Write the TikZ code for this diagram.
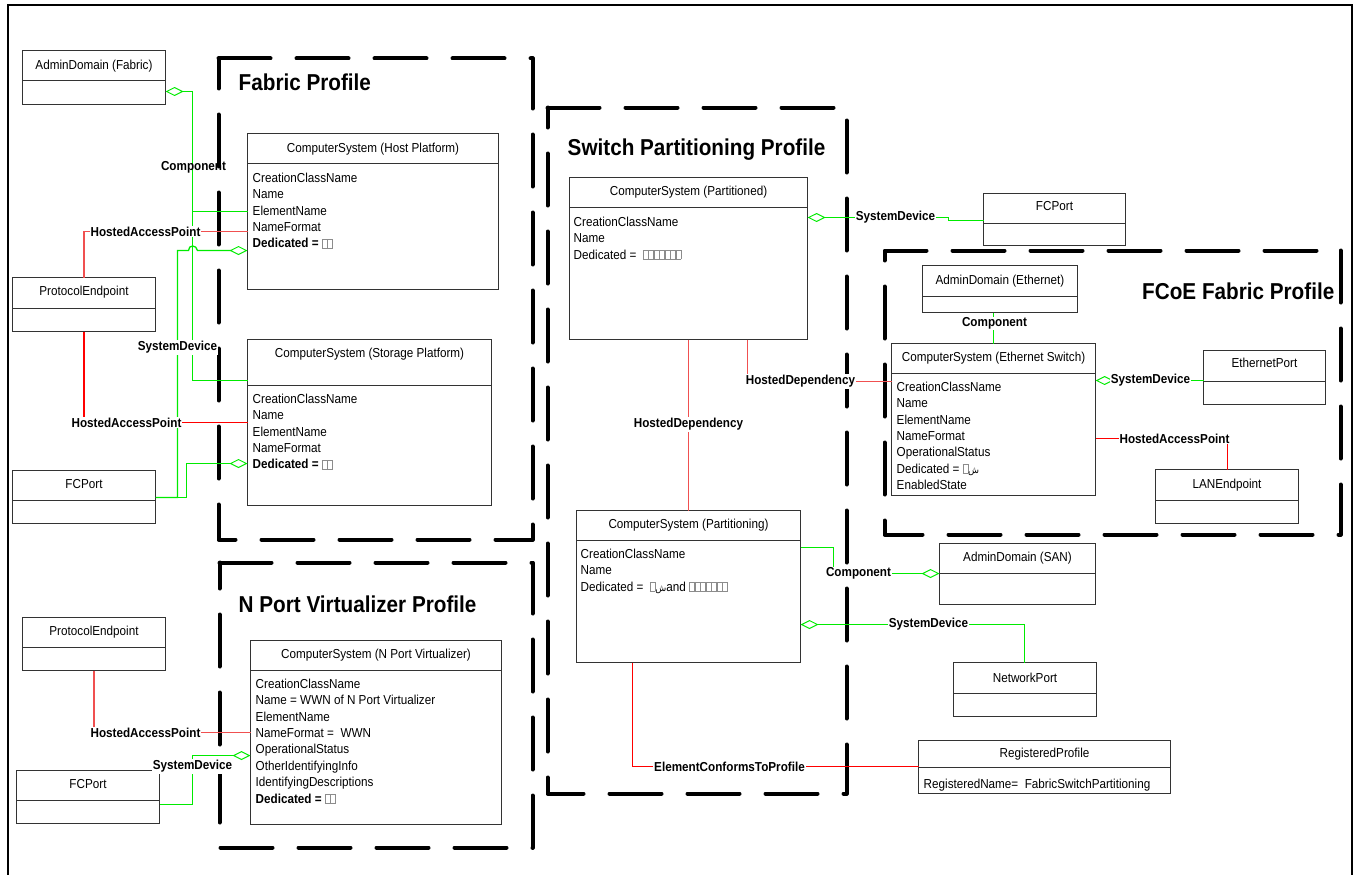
\documentclass[tikz,border=0pt]{standalone}
\usepackage{fontspec}
\setmainfont{Liberation Sans}[FakeStretch=0.9]
\newfontfamily\arabicfont[Script=Arabic]{DejaVu Sans}
\TeXXeTstate=1
\usetikzlibrary{arrows.meta,calc}

\definecolor{lgreen}{RGB}{0,235,0}
\definecolor{lred}{RGB}{255,0,0}
\definecolor{pred}{RGB}{240,80,80}

\newcommand\tofu{{\color{black!45}\setlength\fboxsep{0pt}\setlength\fboxrule{0.5pt}\fbox{\rule{0pt}{8.5pt}\hspace{4.5pt}}}}
\newcommand\tofuseven{\tofu\tofu\tofu\tofu\tofu\tofu\tofu}
\newcommand\shin{{\arabicfont\fontsize{9}{9}\selectfont\beginR ش\endR}}
\newcommand\cfont{\fontsize{13}{15}\selectfont}
\newcommand\lblfont{\fontsize{13}{15}\selectfont\bfseries}
\newcommand\ptfont{\fontsize{23}{27}\selectfont\bfseries}

\newcommand\umlclass[8]{%
  \node[cbox, minimum width=#4pt, minimum height=#5pt, anchor=north west] (#1) at (#2,#3) {};
  \draw[cdiv] (#1.west |- 0,#6) -- (#1.east |- 0,#6);
  \node[ctitle, anchor=base] (#1-t) at (#1.north |- 0,#7+4.7) {#8};
}
\newcommand\attrs[4]{%
  \foreach \itm [count=\i] in {#4}
    \node[attr, anchor=base west] (#1-a\i) at (#2, #3+4.7+16.4*\i-16.4) {\itm};
}

\begin{document}
\begin{tikzpicture}[x=1pt, y=-1pt,
  cbox/.style={draw=black!80, line width=1pt, fill=white, inner sep=0pt, outer sep=0pt},
  cdiv/.style={draw=black!80, line width=1pt},
  ctitle/.style={font=\cfont, inner sep=0pt},
  attr/.style={font=\cfont, inner sep=0pt},
  gline/.style={draw=lgreen, line width=1.3pt},
  rline/.style={draw=lred, line width=1.3pt},
  pline/.style={draw=pred, line width=1.3pt},
  diam/.style={{Diamond[open,length=18pt,width=9pt,line width=1pt]}-},
  diamend/.style={-{Diamond[open,length=18pt,width=9pt,line width=1pt]}},
  lbl/.style={font=\lblfont, fill=white, inner sep=1pt},
  lblclear/.style={font=\lblfont, inner sep=1pt},
  profile/.style={draw=black, line width=4pt, dash pattern=on 52pt off 26pt, line cap=round, line join=round},
  ptitle/.style={font=\ptfont, anchor=base west, inner sep=0pt}
]
\useasboundingbox (-0.5,-0.5) rectangle (1356.5,874.5);

% outer frame
\draw[line width=2pt] (8,875) -- (8,5) -- (1351,5) -- (1351,875);

% profile boundaries
\draw[profile] (218,58) -- (532,58) -- (532,539) -- (218,539) -- cycle;
\draw[profile] (219,562) -- (532,562) -- (532,847) -- (219,847) -- cycle;
\draw[profile] (547,107) -- (846,107) -- (846,793) -- (547,793) -- cycle;
\draw[profile] (1340,250) -- (1340,534) -- (884,534) -- (884,250) -- cycle;

\node[ptitle] (pt-fab) at (238,90.2) {Fabric Profile};
\node[ptitle] (pt-sw) at (567,155.2) {Switch Partitioning Profile};
\node[ptitle, anchor=base east] (pt-fcoe) at (1334,299.2) {FCoE Fabric Profile};
\node[ptitle] (pt-npv) at (238,612.2) {N Port Virtualizer Profile};

% classes
\umlclass{adf}{22}{50}{143}{54}{80}{64}{AdminDomain (Fabric)}
\umlclass{hp}{247}{133}{251}{156}{163}{147}{ComputerSystem (Host Platform)}
\attrs{hp}{252}{177}{CreationClassName, Name, ElementName, NameFormat, {\textbf{Dedicated =} \tofu\tofu}}
\umlclass{pe1}{12}{277}{143}{54}{308}{290}{ProtocolEndpoint}
\umlclass{sp}{247}{339}{244}{166}{385}{352}{ComputerSystem (Storage Platform)}
\attrs{sp}{252}{398}{CreationClassName, Name, ElementName, NameFormat, {\textbf{Dedicated =} \tofu\tofu}}
\umlclass{fc1}{12}{470}{143}{53}{500}{483}{FCPort}

\umlclass{pe2}{22}{617}{143}{53}{647}{630}{ProtocolEndpoint}
\umlclass{fc2}{16}{770}{143}{53}{800}{783}{FCPort}
\umlclass{npv}{250}{640}{251}{184}{670}{653}{ComputerSystem (N Port Virtualizer)}
\attrs{npv}{255}{683}{CreationClassName, Name = WWN of N Port Virtualizer, ElementName, NameFormat = \ WWN, OperationalStatus, OtherIdentifyingInfo, IdentifyingDescriptions, {\textbf{Dedicated =} \tofu\tofu}}

\umlclass{ptd}{569}{177}{238}{162}{207}{190}{ComputerSystem (Partitioned)}
\attrs{ptd}{573}{221}{CreationClassName, Name, {Dedicated = \ \tofuseven}}
\umlclass{ptg}{576}{510}{224}{152}{540}{523}{ComputerSystem (Partitioning)}
\attrs{ptg}{580}{553}{CreationClassName, Name, {Dedicated = \ \tofu\shin and \tofuseven}}
\umlclass{fcr}{983}{193}{142}{52}{223}{205}{FCPort}
\umlclass{ads}{939}{543}{156}{61}{573}{556}{AdminDomain (SAN)}
\umlclass{np}{953}{662}{143}{54}{693}{677}{NetworkPort}
\umlclass{rp}{918}{740}{252}{53}{767}{752}{RegisteredProfile}
\attrs{rp}{923}{783}{{RegisteredName= \ FabricSwitchPartitioning}}

\umlclass{ade}{922}{265}{155}{47}{296}{279}{AdminDomain (Ethernet)}
\umlclass{es}{891}{343}{204}{152}{373}{356}{ComputerSystem (Ethernet Switch)}
\attrs{es}{896}{386}{CreationClassName, Name, ElementName, NameFormat, OperationalStatus, {Dedicated = \tofu\shin}, EnabledState}
\umlclass{ep}{1203}{350}{122}{54}{381}{362}{EthernetPort}
\umlclass{lan}{1155}{469}{143}{54}{500}{483}{LANEndpoint}

% ---- connectors: Fabric profile
\coordinate (j1) at (192,211);
\draw[gline, diam] (adf.east |- 0,91) -- (192,91) -- (192,380) -- (sp.west |- 0,380);
\draw[gline] (j1) -- (hp.west |- j1);
\node[lblclear] (l-comp1) at (193,167) {Component};

\draw[gline, diam] (hp.west |- 0,250) -- (197,250) .. controls (196,244) and (188,244) .. (188,250) -- (177,250) -- (177,497) -- (fc1.east |- 0,497);
\draw[gline, diam] (sp.west |- 0,463) -- (186,463) -- (186,497) -- (fc1.east |- 0,497);
\node[lbl] (l-sd1) at (177,347) {SystemDevice};

\draw[pline] (pe1.north) -- (pe1.north |- 0,231) -- (hp.west |- 0,231);
\node[lbl] (l-hap1) at (145,231) {HostedAccessPoint};
\draw[rline] (pe1.south) -- (pe1.south |- 0,422) -- (sp.west |- 0,422);
\node[lbl] (l-hap2) at (126,422) {HostedAccessPoint};

% ---- N Port Virtualizer
\draw[pline] (pe2.south) -- (pe2.south |- 0,732) -- (npv.west |- 0,732);
\node[lbl] (l-hap3) at (145,732) {HostedAccessPoint};
\draw[gline, diam] (npv.west |- 0,755) -- (192,755) -- (192,804) -- (fc2.east |- 0,804);
\node[lbl] (l-sd2) at (192,766) {SystemDevice};

% ---- Switch partitioning
\draw[gline, diam] (ptd.east |- 0,217) -- (948,217) -- (948,220) -- (fcr.west |- 0,220);
\node[lbl] (l-sd3) at (895,217) {SystemDevice};
\draw[pline] (747,0 |- ptd.south) -- (747,381) -- (es.west |- 0,381);
\node[lbl] (l-hd1) at (800,381) {HostedDependency};
\draw[pline] (ptd.south) -- (ptg.north);
\node[lbl] (l-hd2) at (688,424) {HostedDependency};
\draw[gline, diamend] (ptg.east |- 0,547) -- (833,547) -- (833,573) -- (ads.west |- 0,573);
\node[lbl] (l-comp2) at (858,573) {Component};
\draw[gline, diam] (ptg.east |- 0,624) -- (1024,624) -- (1024,0 |- np.north);
\node[lbl] (l-sd4) at (928,624) {SystemDevice};
\draw[rline] (632,0 |- ptg.south) -- (632,766) -- (rp.west |- 0,766);
\node[lbl] (l-ectp) at (729,766) {ElementConformsToProfile};

% ---- FCoE
\draw[gline] (993,0 |- es.north) -- (993,0 |- ade.south);
\node[lbl] (l-comp3) at (994,323) {Component};
\draw[gline, diam] (es.east |- 0,380) -- (ep.west |- 0,380);
\node[lbl] (l-sd5) at (1150,380) {SystemDevice};
\draw[rline] (es.east |- 0,438) -- (1227,438) -- (1227,0 |- lan.north);
\node[lbl] (l-hap4) at (1174,438) {HostedAccessPoint};
\end{tikzpicture}
\end{document}
